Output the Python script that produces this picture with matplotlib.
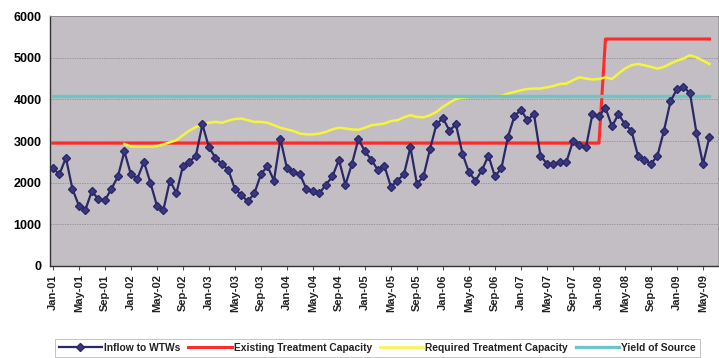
import numpy as np
import matplotlib
matplotlib.use('Agg')
import matplotlib.pyplot as plt

plt.rcParams['font.family'] = ['Liberation Sans', 'DejaVu Sans']

# Monthly series, Jan-01 .. Jun-09
months = [f"{m}-{y:02d}" for y in range(1, 10)
          for m in ['Jan', 'Feb', 'Mar', 'Apr', 'May', 'Jun',
                    'Jul', 'Aug', 'Sep', 'Oct', 'Nov', 'Dec']][:102]

inflow = [2350, 2200, 2600, 1850, 1450, 1350, 1800, 1600, 1580, 1850, 2150, 2750,
          2200, 2100, 2500, 2000, 1450, 1350, 2050, 1750, 2400, 2500, 2650, 3400,
          2850, 2600, 2450, 2300, 1850, 1700, 1550, 1750, 2200, 2400, 2050, 3050,
          2350, 2250, 2200, 1850, 1800, 1750, 1950, 2150, 2550, 1950, 2450, 3050,
          2750, 2550, 2300, 2400, 1900, 2050, 2200, 2850, 1970, 2150, 2800, 3400,
          3550, 3250, 3400, 2700, 2250, 2050, 2300, 2650, 2150, 2350, 3100, 3600,
          3750, 3500, 3650, 2650, 2450, 2450, 2500, 2500, 3000, 2900, 2850, 3650,
          3600, 3800, 3350, 3650, 3400, 3250, 2650, 2550, 2450, 2650, 3250, 3950,
          4250, 4300, 4150, 3200, 2450, 3100]

existing_capacity = [2950] * 85 + [5450] * 17

required_capacity = [np.nan] * 11 + [
    2930,
    2870, 2870, 2870, 2870, 2880, 2920, 2970, 3020, 3140, 3250, 3340, 3380,
    3440, 3460, 3440, 3490, 3530, 3540, 3500, 3460, 3460, 3440, 3380, 3320,
    3280, 3240, 3180, 3160, 3160, 3180, 3220, 3280, 3320, 3300, 3280, 3270,
    3320, 3380, 3400, 3420, 3480, 3500, 3570, 3620, 3580, 3570, 3620, 3700,
    3820, 3920, 4010, 4040, 4060, 4070, 4070, 4075, 4080, 4085, 4140, 4180,
    4220, 4250, 4260, 4260, 4290, 4320, 4370, 4380, 4460, 4530, 4500, 4480,
    4490, 4530, 4490, 4620, 4740, 4820, 4850, 4820, 4780, 4740, 4780, 4860,
    4930, 4980, 5060, 5010, 4930, 4850]

yield_of_source = [4070] * 102

x = np.arange(len(months))

fig = plt.figure(figsize=(7.19, 3.58), dpi=100)
ax = fig.add_axes([0.0695, 0.257, 0.929, 0.698])
ax.set_facecolor('#c2bec3')

ax.plot(x, inflow, color='#2b2868', lw=1.6, marker='D', markersize=4.2,
        markerfacecolor='#3a3680', markeredgecolor='#2b2868', label='Inflow to WTWs', zorder=5)
ax.plot(x, existing_capacity, color='#ff2a2a', lw=2.2, label='Existing Treatment Capacity', zorder=2)
ax.plot(x, required_capacity, color='#f5f53a', lw=1.8, label='Required Treatment Capacity', zorder=3)
ax.plot(x, yield_of_source, color='#6cc6c4', lw=2.4, label='Yield of Source', zorder=4)

ax.set_ylim(0, 6000)
ax.set_yticks(range(0, 6001, 1000))
ax.set_xlim(-0.45, 102.3)
ax.set_xticks(x[::4])
ax.set_xticklabels(months[::4], rotation=90, fontsize=8, fontweight='bold', color='#222222')
ax.tick_params(axis='y', labelsize=9, length=0, pad=6)
for t in ax.get_yticklabels():
    t.set_fontweight('bold')
ax.tick_params(axis='x', length=3, pad=3, color='#555555')

ax.grid(axis='y', color='#8a8690', lw=0.5, ls=(0, (2, 1.5)))
ax.set_axisbelow(True)
for side in ['top', 'right']:
    ax.spines[side].set_color('#8a8a8a')
    ax.spines[side].set_linewidth(0.6)
for side in ['left', 'bottom']:
    ax.spines[side].set_color('#333333')
    ax.spines[side].set_linewidth(1.0)

leg = fig.legend(loc='lower left', bbox_to_anchor=(0.076, 0.003, 0.898, 0.07), mode='expand',
                 ncol=4, frameon=True, fontsize=7.4, handlelength=4.2, handletextpad=0.2,
                 borderaxespad=0, columnspacing=1.0, fancybox=False)
leg.get_frame().set_edgecolor('#aaaaaa')
leg.get_frame().set_linewidth(0.6)
for t in leg.get_texts():
    t.set_fontweight('bold')
    t.set_color('#222222')

fig.savefig('out.png', dpi=100, facecolor='white')
